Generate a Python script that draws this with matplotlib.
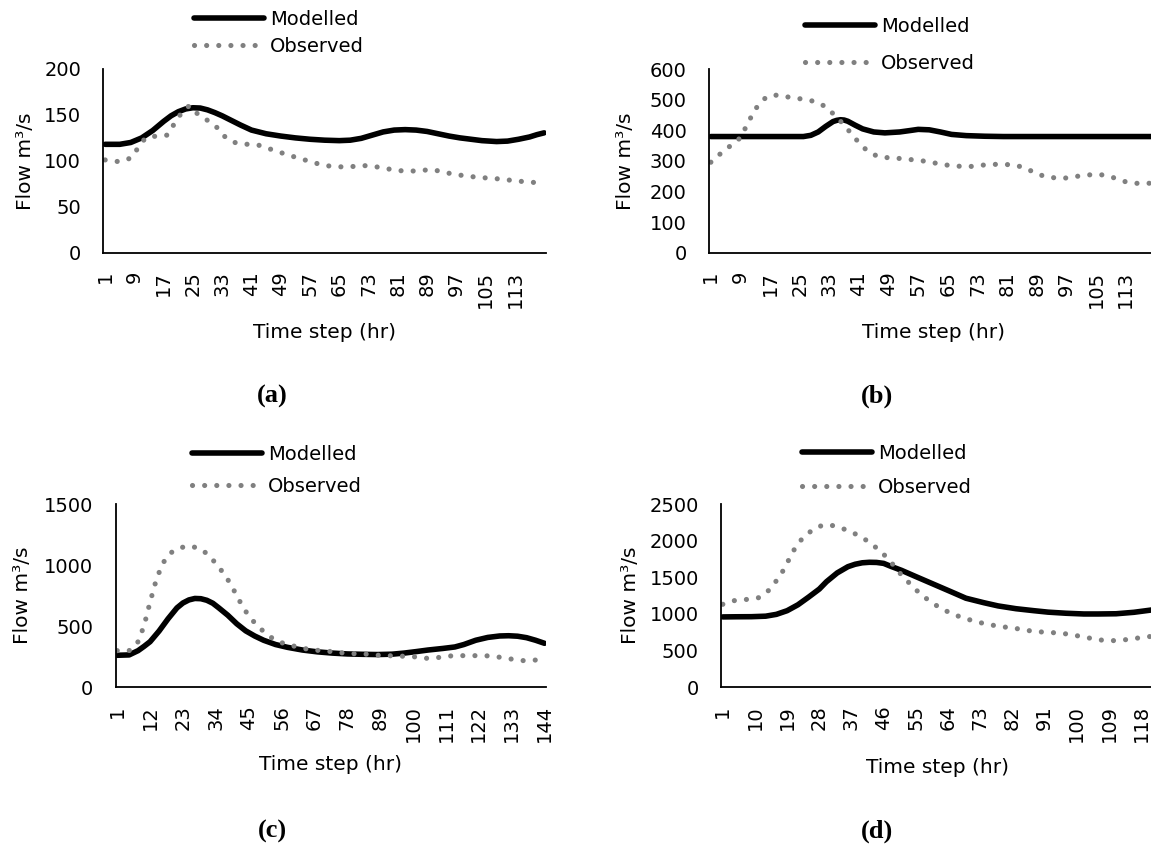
import matplotlib
matplotlib.use("Agg")
import matplotlib.pyplot as plt
from matplotlib.transforms import ScaledTranslation

# ---------------- data ----------------
# (a)
n_steps_a = 121
hr_mod_a = [1, 5, 8, 11, 14, 17, 19, 21, 23, 25, 27, 29, 31, 33, 35, 38, 41, 45, 49, 53, 57,
            61, 65, 68, 71, 74, 77, 80, 83, 86, 89, 92, 95, 98, 101, 104, 108, 111, 114, 117,
            119, 121]
flow_mod_a = [118, 118, 120, 125, 133, 143, 149, 153.5, 156.5, 157.8, 157.5, 155.5, 152.5,
              149, 145, 139, 133.5, 129.5, 127, 125, 123.5, 122.5, 122, 122.5, 124.5, 128,
              131.5, 133.5, 134, 133.5, 132, 129.5, 127, 125, 123.5, 122, 121, 121.5, 123.5,
              126, 128.5, 130.5]
hr_obs_a = [1, 5, 8, 10, 12, 15, 18, 20, 22, 24, 26, 29, 32, 34, 37, 40, 43, 46, 49, 53, 56,
            59, 62, 65, 68, 71, 73, 76, 80, 83, 86, 90, 93, 96, 100, 103, 107, 110, 113, 117, 121]
flow_obs_a = [101, 99, 103, 114, 125, 127, 128, 141, 153, 160, 152, 144, 135, 125, 119, 118,
              117, 113, 109, 104, 100.5, 97, 94.5, 93.5, 93.5, 95, 94.5, 93, 90, 88.8, 89, 90.5,
              88.5, 85.5, 83.4, 82, 80.9, 79.8, 78.3, 76.8, 75.8]
x_labels_a = [1, 9, 17, 25, 33, 41, 49, 57, 65, 73, 81, 89, 97, 105, 113]

# (b)
n_steps_b = 121
hr_mod_b = [1, 10, 20, 26, 28, 30, 32, 34, 35, 36, 37, 38, 40, 42, 45, 48, 52, 55, 57, 60, 63,
            66, 70, 75, 80, 90, 100, 110, 121]
flow_mod_b = [380, 380, 380, 380, 384, 395, 413, 429, 433, 435, 434, 430, 417, 405, 395, 392,
              395, 400, 403.5, 402, 395, 387, 383, 381, 380, 380, 380, 380, 380]
hr_obs_b = [1, 3, 6, 9, 11, 13, 16, 19, 22, 26, 29, 32, 34, 37, 39, 41, 43, 46, 50, 53, 56,
            60, 63, 66, 70, 73, 76, 80, 83, 86, 89, 92, 96, 99, 102, 106, 109, 112, 115, 119, 121]
flow_obs_b = [296, 318, 347, 376, 424, 470, 510, 516, 509, 502, 495, 478, 455, 418, 388, 360,
              336, 315, 309, 308, 303, 298, 289, 285, 281, 284, 289, 289, 287, 277, 258, 247,
              243, 248, 254, 256, 249, 235, 227, 227, 228]
x_labels_b = [1, 9, 17, 25, 33, 41, 49, 57, 65, 73, 81, 89, 97, 105, 113]

# (c)
n_steps_c = 144
hr_mod_c = [1, 5, 8, 10, 12, 15, 18, 21, 23, 25, 27, 29, 31, 33, 35, 38, 41, 44, 47, 50, 54,
            58, 63, 68, 73, 78, 83, 88, 93, 97, 101, 105, 110, 114, 117, 121, 125, 129, 132,
            135, 138, 141, 144]
flow_mod_c = [262, 265, 300, 335, 373, 460, 560, 650, 690, 715, 727, 725, 712, 688, 650, 590,
              520, 462, 420, 385, 350, 327, 305, 290, 280, 273, 270, 268, 271, 280, 292, 305,
              318, 330, 350, 385, 408, 420, 422, 418, 406, 385, 360]
hr_obs_c = [1, 5, 8, 10, 12, 14, 16, 18, 20, 24, 28, 31, 34, 37, 39, 41, 43, 45, 48, 51, 54,
            58, 62, 66, 70, 74, 79, 83, 87, 91, 95, 100, 104, 108, 112, 116, 120, 124, 128, 132,
            137, 141, 144]
flow_obs_c = [300, 300, 373, 505, 697, 873, 1003, 1080, 1120, 1156, 1143, 1095, 1015, 920, 843,
              750, 660, 585, 500, 436, 382, 349, 327, 305, 300, 288, 275, 275, 264, 259, 256,
              251, 237, 242, 256, 259, 259, 259, 250, 234, 218, 223, 225]
x_labels_c = [1, 12, 23, 34, 45, 56, 67, 78, 89, 100, 111, 122, 133, 144]

# (d)
n_steps_d = 121
hr_mod_d = [1, 5, 9, 13, 16, 19, 22, 25, 28, 30, 33, 36, 38, 40, 42, 44, 46, 48, 51, 55, 60,
            65, 69, 74, 78, 83, 88, 92, 97, 102, 106, 111, 116, 121]
flow_mod_d = [960, 962, 963, 970, 995, 1045, 1125, 1230, 1340, 1440, 1560, 1645, 1678, 1698,
              1705, 1703, 1690, 1650, 1595, 1510, 1405, 1300, 1215, 1154, 1110, 1072, 1045,
              1025, 1010, 1000, 1000, 1003, 1023, 1055]
hr_obs_d = [1, 4, 8, 11, 14, 16, 18, 20, 21, 23, 26, 29, 32, 36, 39, 42, 44, 47, 49, 51, 54,
            56, 59, 62, 65, 68, 72, 75, 79, 82, 85, 89, 92, 96, 99, 103, 106, 110, 113, 116,
            120, 121]
flow_obs_d = [1132, 1181, 1200, 1222, 1327, 1454, 1600, 1790, 1880, 2015, 2145, 2214, 2205,
              2140, 2070, 1980, 1900, 1768, 1650, 1530, 1380, 1285, 1170, 1077, 1005, 950, 893,
              860, 825, 813, 783, 758, 750, 736, 713, 677, 647, 636, 645, 665, 690, 695]
x_labels_d = [1, 10, 19, 28, 37, 46, 55, 64, 73, 82, 91, 100, 109, 118]

y_ticks_a = [0, 50, 100, 150, 200]
y_ticks_b = [0, 100, 200, 300, 400, 500, 600]
y_ticks_c = [0, 500, 1000, 1500]
y_ticks_d = [0, 500, 1000, 1500, 2000, 2500]
panel_tags = ["(a)", "(b)", "(c)", "(d)"]

# ---------------- figure ----------------
W, H = 1151, 847
DPI = 100
plt.rcParams["font.family"] = "DejaVu Sans"
plt.rcParams["font.size"] = 14

fig = plt.figure(figsize=(W / DPI, H / DPI), dpi=DPI)

MOD_COLOR = "black"
OBS_COLOR = "#808080"


def px_rect(left, right, top, bottom):
    return [left / W, 1 - bottom / H, (right - left) / W, (bottom - top) / H]


panels = [
    dict(rect=px_rect(103.3, 546, 69, 252.7), n=n_steps_a, xl=x_labels_a,
         hm=hr_mod_a, fm=flow_mod_a, ho=hr_obs_a, fo=flow_obs_a, yt=y_ticks_a,
         leg=(194, 18, 0.41), ylab_x=25, xlab_y=332, tag=panel_tags[0], tag_xy=(272, 396)),
    dict(rect=px_rect(709, 1157, 69.3, 252.7), n=n_steps_b, xl=x_labels_b,
         hm=hr_mod_b, fm=flow_mod_b, ho=hr_obs_b, fo=flow_obs_b, yt=y_ticks_b,
         leg=(805, 25, 0.94), ylab_x=626, xlab_y=332, tag=panel_tags[1], tag_xy=(877, 396)),
    dict(rect=px_rect(115.7, 546, 504, 687.3), n=n_steps_c, xl=x_labels_c,
         hm=hr_mod_c, fm=flow_mod_c, ho=hr_obs_c, fo=flow_obs_c, yt=y_ticks_c,
         leg=(192, 453, 0.65), ylab_x=23, xlab_y=765, tag=panel_tags[2], tag_xy=(272, 831)),
    dict(rect=px_rect(721, 1153.6, 504, 687.3), n=n_steps_d, xl=x_labels_d,
         hm=hr_mod_d, fm=flow_mod_d, ho=hr_obs_d, fo=flow_obs_d, yt=y_ticks_d,
         leg=(802, 452, 0.77), ylab_x=631, xlab_y=767, tag=panel_tags[3], tag_xy=(877, 831)),
]

label_shift = ScaledTranslation(8 / DPI, 0, fig.dpi_scale_trans)

for p in panels:
    ax = fig.add_axes(p["rect"])
    ax.plot(p["hm"], p["fm"], color=MOD_COLOR, lw=4.0, solid_capstyle="round",
            solid_joinstyle="round", label="Modelled")
    ax.plot(p["ho"], p["fo"], color=OBS_COLOR, lw=3.7, linestyle=(0, (0.01, 2.35)),
            dash_capstyle="round", label="Observed")

    ax.set_xlim(0.5, p["n"] + 0.5)
    ax.set_ylim(p["yt"][0], p["yt"][-1])
    ax.set_yticks(p["yt"])
    ax.set_xticks(p["xl"])
    ax.set_xticklabels([str(v) for v in p["xl"]], rotation=90)
    for lab in ax.get_xticklabels():
        lab.set_transform(lab.get_transform() + label_shift)
    ax.tick_params(axis="x", length=0, pad=13)
    ax.tick_params(axis="y", length=0, pad=16)

    for s in ("top", "right"):
        ax.spines[s].set_visible(False)
    for s in ("left", "bottom"):
        ax.spines[s].set_linewidth(1.3)
        ax.spines[s].set_color("black")

    l, b, w, h = p["rect"]
    ax.set_ylabel("Flow m³/s", va="center", fontsize=14.5)
    ax.yaxis.set_label_coords((p["ylab_x"] / W - l) / w, 0.5)
    ax.set_xlabel("Time step (hr)", va="center", fontsize=14.5)
    ax.xaxis.set_label_coords(0.5, ((1 - p["xlab_y"] / H) - b) / h)

    lx, ly, lsp = p["leg"]
    ax.legend(loc="upper left", bbox_to_anchor=(lx / W, 1 - (ly - 8) / H),
              bbox_transform=fig.transFigure, frameon=False, borderpad=0,
              borderaxespad=0, handlelength=3.6, handletextpad=0.3,
              labelspacing=lsp, fontsize=14)

    tx, ty = p["tag_xy"]
    fig.text(tx / W, 1 - ty / H, p["tag"], ha="center", va="center",
             family="Liberation Serif", weight="bold", fontsize=19)

fig.savefig("out.png", dpi=DPI)
